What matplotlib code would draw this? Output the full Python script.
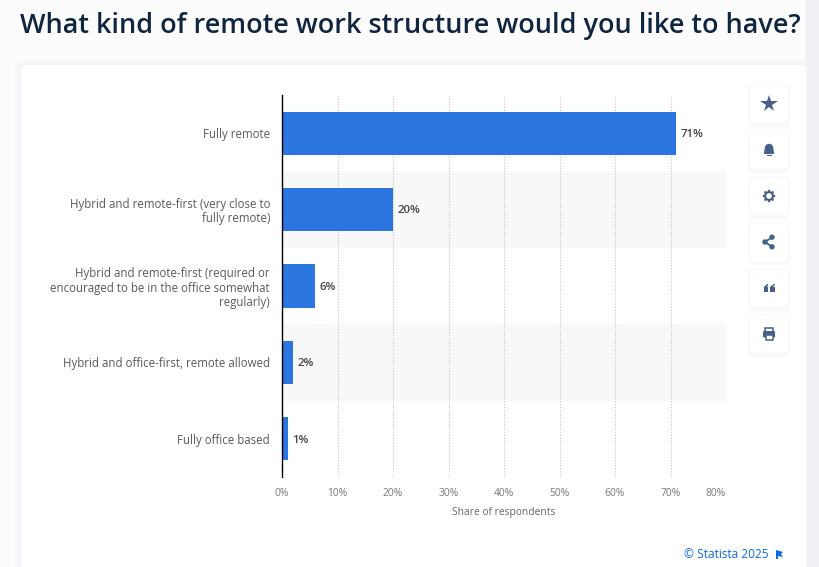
import matplotlib
matplotlib.use("Agg")
import matplotlib.pyplot as plt
from matplotlib.patches import FancyBboxPatch, Rectangle, Circle, Polygon

plt.rcParams['font.family'] = ['Open Sans', 'DejaVu Sans']

categories = [
    "Fully remote",
    "Hybrid and remote-first (very close to\nfully remote)",
    "Hybrid and remote-first (required or\nencouraged to be in the office somewhat\nregularly)",
    "Hybrid and office-first, remote allowed",
    "Fully office based",
]
shares = [71, 20, 6, 2, 1]
xticks = [0, 10, 20, 30, 40, 50, 60, 70, 80]

W, H = 819, 567
BLUE = '#2a75de'
ICON = '#46608a'

fig = plt.figure(figsize=(W/100, H/100), dpi=100, facecolor='#fcfcfd')

# page layer in pixel coordinates
bg = fig.add_axes([0, 0, 1, 1], zorder=0)
bg.set_xlim(0, W)
bg.set_ylim(H, 0)
bg.axis('off')
bg.add_patch(Rectangle((806, 0), 13, H, color='#eef0f5', lw=0))
for grow, alpha in [(6, 0.25), (4, 0.35), (2, 0.5)]:
    bg.add_patch(FancyBboxPatch((21-grow, 65-grow), 785+2*grow, 540,
                                boxstyle="round,pad=0,rounding_size=8",
                                fc='#f3f4f8', ec='none', alpha=alpha))
bg.add_patch(FancyBboxPatch((21, 65), 785, 540, boxstyle="round,pad=0,rounding_size=6",
                            fc='white', ec='none'))
bg.text(20, 26, "What kind of remote work structure would you like to have?",
        fontsize=19.47, fontweight=600, color='#0f2540', va='center', ha='left')
bg.text(769, 554.5, "© Statista 2025", fontsize=8.6, color='#0a6ae0', va='center', ha='right')
bg.add_patch(Polygon([(776, 550), (783, 552), (781, 554), (783, 557), (778, 556), (778, 559), (776, 559)],
                     fc='#0a6ae0', ec='none'))

# chart
ax = fig.add_axes([282/W, 1-477/H, (726-282)/W, (477-95)/H], zorder=1)
ax.patch.set_alpha(0)
y = range(len(categories))
for i in y:
    if i % 2 == 1:
        ax.axhspan(i-0.5, i+0.5, color='#f8f8f8', lw=0, zorder=0)
ax.barh(y, shares, height=0.565, color=BLUE, zorder=3)
ax.set_xlim(0, 80)
ax.set_ylim(len(categories)-0.5, -0.5)
ax.set_yticks(list(y))
ax.set_yticklabels(categories, fontsize=8.3, color='#5a5a5a', linespacing=1.12, ha='right')
ax.set_xticks(xticks)
ax.set_xticklabels([f"{t}%" for t in xticks], fontsize=7.4, color='#777777')
ax.get_xticklabels()[-1].set_ha('right')
ax.tick_params(axis='y', length=0, pad=8.6)
ax.tick_params(axis='x', length=0, pad=8)
ax.set_xlabel("Share of respondents", fontsize=7.4, color='#666666', labelpad=6)
ax.grid(axis='x', linestyle=(0, (1, 1.5)), color='#c4c4c4', lw=0.8, zorder=1)
ax.set_axisbelow(True)
for s in ['top', 'right', 'bottom']:
    ax.spines[s].set_visible(False)
ax.spines['left'].set_color('black')
ax.spines['left'].set_linewidth(1.0)
ax.spines['left'].set_zorder(5)
for i, v in enumerate(shares):
    ax.annotate(f"{v}%", (v, i), xytext=(3, -1), textcoords='offset points', va='center',
                fontsize=8.2, fontweight=600, color='#444444', zorder=4)

# side buttons
top = fig.add_axes([0, 0, 1, 1], zorder=2)
top.set_xlim(0, W)
top.set_ylim(H, 0)
top.axis('off')
top.patch.set_alpha(0)
xc = 769
ycs = [104, 150, 196, 242, 288, 334]
for yc in ycs:
    top.add_patch(FancyBboxPatch((xc-21, yc-20), 42, 43, boxstyle="round,pad=0,rounding_size=6",
                                 fc='#f4f5f8', ec='none', alpha=0.6))
    top.add_patch(FancyBboxPatch((xc-19, yc-19), 38, 38, boxstyle="round,pad=0,rounding_size=4",
                                 fc='white', ec='none'))
# star
top.plot(xc, ycs[0], marker='*', ms=13, color=ICON, mew=0)
# bell
yc = ycs[1]
top.add_patch(Circle((xc, yc-2), 4.2, fc=ICON, ec='none'))
top.add_patch(Polygon([(xc-4.2, yc-2), (xc+4.2, yc-2), (xc+5.2, yc+4), (xc-5.2, yc+4)], fc=ICON, ec='none'))
top.add_patch(Rectangle((xc-2.5, yc+5), 5, 1.3, fc=ICON, ec='none'))
# gear
yc = ycs[2]
for dx, dy in [(0, -5), (0, 5), (-5, 0), (5, 0), (-3.6, -3.6), (3.6, -3.6), (-3.6, 3.6), (3.6, 3.6)]:
    top.add_patch(Circle((xc+dx, yc+dy), 1.3, fc=ICON, ec='none'))
top.add_patch(Circle((xc, yc), 4.8, fc=ICON, ec='none'))
top.add_patch(Circle((xc, yc), 2.8, fc='white', ec='none'))
# share
yc = ycs[3]
pts = [(xc+3, yc-4.8), (xc-4, yc), (xc+3, yc+4.8)]
top.plot([p[0] for p in pts], [p[1] for p in pts], color=ICON, lw=1.3)
for p in pts:
    top.add_patch(Circle(p, 2.7, fc=ICON, ec='none'))
# quote
yc = ycs[4]
for dx in (-5.5, 1):
    top.add_patch(Rectangle((xc+dx, yc-1), 4.6, 5, fc=ICON, ec='none'))
    top.add_patch(Polygon([(xc+dx, yc-1), (xc+dx+4.6, yc-4.5), (xc+dx+4.6, yc-2.5), (xc+dx+2, yc)], fc=ICON, ec='none'))
# printer
yc = ycs[5]
top.add_patch(Rectangle((xc-4, yc-6), 8, 3.5, fc='white', ec=ICON, lw=1.1))
top.add_patch(FancyBboxPatch((xc-6, yc-3), 12, 6.5, boxstyle="round,pad=0,rounding_size=1.2", fc=ICON, ec='none'))
top.add_patch(Rectangle((xc-3.5, yc+0.5), 7, 5, fc='white', ec=ICON, lw=1.1))

fig.savefig("out.png", dpi=100, facecolor=fig.get_facecolor())
